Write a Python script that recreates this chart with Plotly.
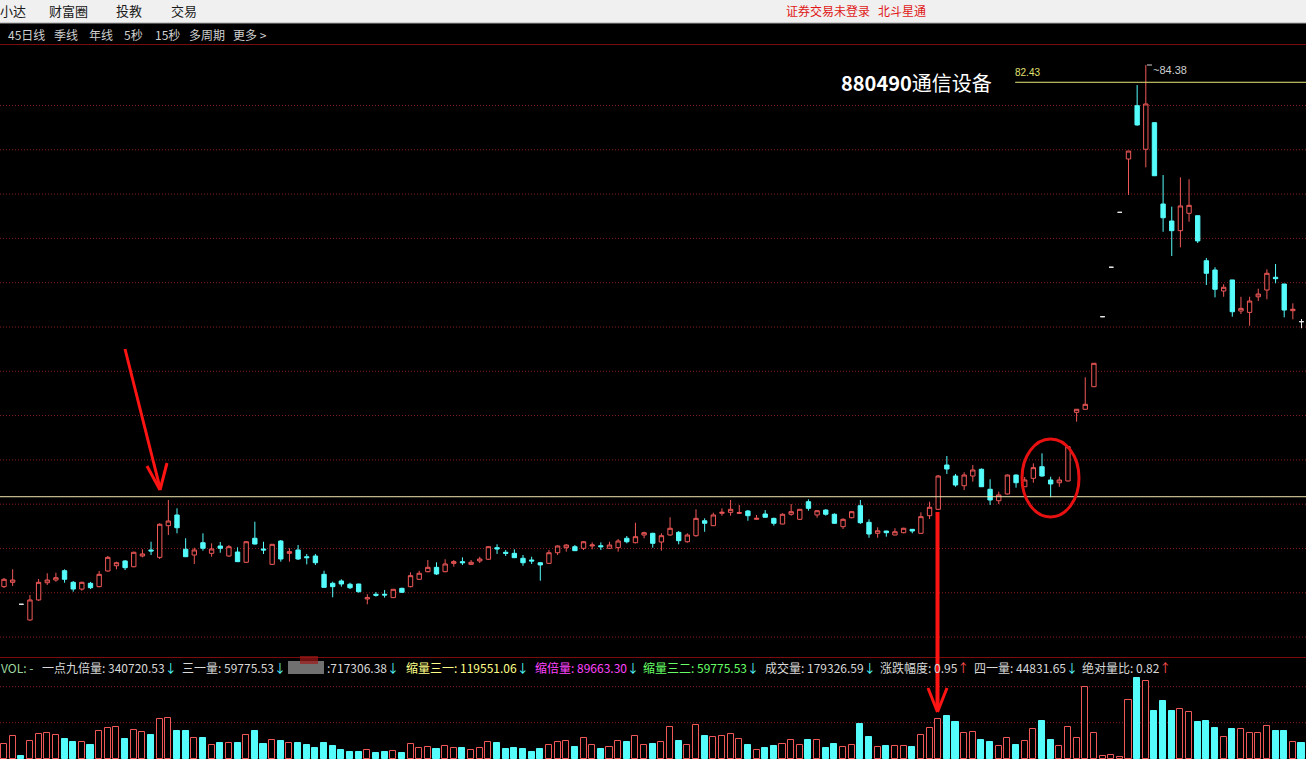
import plotly.graph_objects as go

W, H = 1306, 759

# ---------------- data ----------------
opens = [25.50, 25.99, 23.51, 21.74, 24.00, 25.94, 26.25, 27.30, 25.99, 25.23,
         25.88, 25.50, 27.27, 27.86, 28.40, 27.75, 28.96, 29.64, 28.81, 32.38,
         33.59, 29.72, 29.07, 30.46, 29.26, 30.09, 28.96, 29.41, 28.25, 30.96,
         29.75, 28.02, 30.65, 29.26, 29.64, 28.88, 28.96, 26.89, 25.88, 26.14,
         25.77, 25.80, 24.11, 24.64, 24.64, 24.26, 25.31, 25.50, 26.33, 27.19,
         27.68, 27.19, 28.13, 28.32, 28.02, 28.40, 28.59, 29.90, 29.38, 29.26,
         28.70, 28.51, 28.20, 28.13, 29.33, 29.90, 30.01, 29.83, 30.09, 30.12,
         29.83, 29.90, 30.96, 30.46, 31.33, 31.52, 30.54, 31.33, 31.63, 30.57,
         31.25, 32.94, 32.38, 33.78, 33.89, 33.78, 34.04, 33.10, 33.70, 33.21,
         32.57, 33.67, 33.10, 35.09, 33.59, 34.15, 33.67, 32.27, 33.28, 34.64,
         32.76, 31.52, 31.78, 31.33, 31.59, 31.97, 31.52, 33.51, 34.23, 39.23,
         37.99, 36.89, 37.99, 38.75, 36.49, 35.20, 35.96, 38.10, 36.78, 37.73,
         39.04, 37.54, 37.23, 37.43, 45.18, 45.52, 48.07, 55.97, 61.55, 67.75,
         73.77, 79.79, 74.87, 77.87, 68.69, 66.77, 65.68, 67.64, 67.37, 62.29,
         61.24, 58.87, 60.12, 56.61, 56.46, 58.22, 58.98, 60.42, 59.66, 56.65,
         55.41]
highs = [26.48, 27.46, 23.51, 24.56, 26.37, 27.01, 27.07, 27.46, 26.14, 26.06,
         26.03, 27.27, 28.96, 28.32, 28.51, 29.45, 29.72, 30.57, 32.65, 35.28,
         34.34, 30.96, 29.90, 31.52, 30.39, 30.54, 30.20, 29.94, 30.65, 32.83,
         30.57, 30.31, 30.77, 29.83, 30.20, 29.19, 29.19, 27.30, 26.06, 26.33,
         25.94, 25.83, 24.64, 24.90, 25.12, 25.23, 25.38, 27.12, 27.30, 28.51,
         28.25, 28.59, 28.51, 28.81, 28.51, 28.88, 30.05, 30.28, 29.64, 29.72,
         29.07, 28.88, 28.28, 29.64, 30.16, 30.28, 30.20, 30.65, 30.50, 30.50,
         30.57, 30.88, 31.22, 32.71, 31.70, 31.59, 31.52, 33.33, 31.78, 31.52,
         34.23, 33.21, 33.85, 34.34, 35.28, 34.72, 34.15, 33.59, 34.15, 33.28,
         33.78, 34.83, 34.26, 35.36, 34.15, 34.23, 33.78, 33.21, 34.04, 35.28,
         33.10, 32.20, 31.81, 32.09, 32.15, 32.01, 33.89, 35.09, 38.10, 40.25,
         38.22, 38.41, 39.23, 38.84, 37.62, 36.22, 38.16, 38.16, 37.88, 39.42,
         40.55, 37.91, 37.91, 41.35, 45.55, 49.13, 50.75, 55.97, 61.55, 67.75,
         74.67, 82.12, 84.38, 77.87, 71.96, 68.39, 71.70, 71.48, 67.37, 62.60,
         61.55, 59.63, 60.12, 58.22, 58.22, 59.13, 61.32, 61.92, 59.66, 57.48,
         55.71]
lows = [25.35, 25.58, 23.51, 21.66, 23.89, 25.69, 26.06, 25.94, 24.93, 25.04,
        25.23, 25.42, 27.19, 27.46, 27.38, 27.68, 28.81, 29.07, 28.62, 31.33,
        31.52, 28.85, 28.06, 29.56, 28.88, 29.33, 28.85, 28.28, 28.17, 30.25,
        29.19, 27.95, 28.32, 28.32, 28.51, 28.02, 27.95, 25.40, 24.30, 25.50,
        25.23, 24.82, 23.51, 24.37, 24.26, 24.24, 24.82, 25.42, 26.25, 27.12,
        26.82, 27.12, 27.75, 27.95, 27.95, 28.17, 28.51, 29.19, 28.96, 28.73,
        27.86, 28.06, 26.17, 28.06, 29.07, 29.45, 29.53, 29.64, 29.72, 29.64,
        29.75, 29.45, 30.39, 30.39, 30.96, 29.90, 29.56, 31.25, 30.28, 30.46,
        31.14, 31.70, 32.35, 33.51, 33.51, 33.70, 32.94, 33.06, 33.28, 32.38,
        32.54, 33.51, 33.02, 34.07, 33.28, 33.51, 32.57, 32.01, 33.21, 32.57,
        31.02, 31.02, 31.14, 31.30, 31.52, 31.52, 31.47, 33.14, 34.15, 38.22,
        36.78, 36.41, 37.35, 36.75, 34.72, 34.83, 35.90, 36.67, 36.75, 37.23,
        37.91, 35.59, 36.78, 37.37, 44.12, 45.50, 48.03, 55.97, 61.55, 67.75,
        69.71, 77.53, 72.83, 71.88, 65.56, 62.82, 63.80, 66.69, 64.29, 59.55,
        58.15, 58.22, 55.97, 56.27, 54.95, 57.74, 57.93, 59.74, 55.90, 55.68,
        54.67]
closes = [26.33, 26.25, 23.51, 24.00, 25.99, 26.25, 26.51, 26.33, 25.23, 25.99,
          25.38, 26.89, 28.81, 28.20, 27.64, 29.38, 29.19, 29.53, 32.54, 32.91,
          32.15, 28.88, 29.64, 29.83, 29.75, 29.83, 30.01, 28.32, 30.57, 30.31,
          29.64, 30.28, 28.62, 29.45, 28.62, 28.77, 28.20, 25.42, 25.50, 25.80,
          25.38, 24.93, 24.26, 24.53, 24.56, 25.20, 24.86, 26.74, 27.01, 27.68,
          26.93, 28.06, 28.32, 28.20, 28.25, 28.62, 30.01, 29.75, 29.26, 28.77,
          28.20, 28.40, 27.95, 29.33, 30.09, 30.20, 29.56, 30.57, 30.20, 30.01,
          30.20, 30.65, 30.57, 31.14, 31.59, 30.39, 31.25, 32.09, 30.69, 31.33,
          33.21, 32.65, 33.59, 33.89, 34.23, 33.85, 33.51, 33.21, 33.33, 32.65,
          33.67, 33.96, 34.23, 34.34, 34.07, 33.67, 32.65, 33.10, 33.96, 32.72,
          31.44, 31.81, 31.59, 31.70, 32.09, 31.78, 33.40, 34.46, 37.99, 38.78,
          36.97, 38.10, 38.67, 36.78, 35.28, 35.85, 38.10, 37.23, 37.54, 38.93,
          37.99, 37.09, 37.54, 41.30, 45.52, 46.08, 50.71, 55.97, 61.55, 67.75,
          74.67, 77.61, 79.98, 71.88, 67.14, 65.68, 68.47, 68.54, 64.52, 60.87,
          59.06, 59.29, 56.53, 56.91, 57.74, 58.53, 60.87, 60.26, 56.72, 56.81,
          55.41]
# volume, in units of 10,000
volumes = [17.6, 27.2, 3.6, 21.2, 29.6, 30.8, 28.4, 24.0, 20.4, 20.0,
           16.8, 33.2, 36.8, 38.0, 24.0, 34.4, 32.0, 28.8, 48.0, 48.8,
           33.6, 33.6, 24.8, 25.2, 16.4, 19.2, 19.2, 19.2, 28.4, 33.6,
           18.0, 22.4, 21.6, 18.8, 19.2, 16.8, 13.6, 19.2, 15.6, 10.8,
           8.4, 8.4, 10.4, 6.8, 8.0, 9.2, 6.8, 17.6, 12.8, 14.4,
           12.0, 15.2, 12.8, 13.2, 10.4, 13.2, 20.0, 18.8, 12.0, 13.2,
           12.0, 8.4, 12.0, 16.8, 20.0, 21.2, 14.4, 24.8, 16.4, 12.0,
           14.4, 21.2, 20.4, 27.2, 16.4, 18.0, 20.0, 38.0, 21.6, 16.4,
           40.4, 27.6, 26.0, 27.2, 30.4, 23.6, 16.8, 11.2, 13.2, 15.6,
           17.6, 22.4, 16.4, 22.8, 22.4, 13.2, 18.0, 14.0, 16.4, 42.0,
           26.4, 14.0, 15.6, 15.6, 15.6, 14.4, 28.4, 36.8, 47.6, 51.6,
           44.4, 30.8, 32.0, 22.8, 20.4, 15.2, 24.8, 16.8, 21.2, 35.6,
           45.6, 22.8, 15.2, 38.0, 24.8, 86.0, 30.8, 3.6, 4.4, 2.4,
           70.8, 96.8, 93.6, 57.6, 69.6, 57.6, 60.0, 56.0, 44.4, 45.6,
           37.2, 26.4, 36.0, 35.6, 30.8, 30.8, 39.2, 33.6, 33.6, 20.0,
           18.8]

title_text = "880490通信设备"
high_mark = 84.38
level_mark = 82.43
support_level = 35.65

menu_items = ["小达", "财富圈", "投教", "交易"]
status_items = ["证券交易未登录", "北斗星通"]
period_items = ["45日线", "季线", "年线", "5秒", "15秒", "多周期", "更多 >"]

# indicator row: (label, value, arrow-up?)
ind_labels = ["一点九倍量", "三一量", "", "缩量三一", "缩倍量", "缩量三二",
              "成交量", "涨跌幅度", "四一量", "绝对量比"]
ind_values = ["340720.53", "59775.53", "717306.38", "119551.06", "89663.30",
              "59775.53", "179326.59", "0.95", "44831.65", "0.82"]
ind_up = [False, False, False, False, False, False, False, True, False, True]

# ---------------- styling helpers ----------------
RED = "#f05858"
CYAN = "#55fcfc"
GRID = "#8a1c1c"
FONT = "Noto Sans CJK SC"

n = len(closes)
xs = list(range(n))


def PX(x):
    return x / W


def PY(y):
    return 1 - y / H


# pixel layout of the panes
main_top, main_bot = 44, 657
vol_top = 675
y_top_price, y_bot_price = 86.75, 17.56

fig = go.Figure()

# candle groups
up_idx = [i for i in xs if closes[i] > opens[i]]
dn_idx = [i for i in xs if closes[i] < opens[i]]
fl_idx = [i for i in xs if closes[i] == opens[i]]


def cs(idx, line_col, fill_col):
    return go.Candlestick(
        x=[xs[i] for i in idx],
        open=[opens[i] for i in idx], high=[highs[i] for i in idx],
        low=[lows[i] for i in idx], close=[closes[i] for i in idx],
        increasing=dict(line=dict(color=line_col, width=1), fillcolor=fill_col),
        decreasing=dict(line=dict(color=line_col, width=1), fillcolor=fill_col),
        whiskerwidth=0, showlegend=False, hoverinfo="skip",
        xaxis="x", yaxis="y")


fig.add_trace(cs(up_idx, RED, "#000000"))
fig.add_trace(cs(dn_idx, CYAN, CYAN))
fig.add_trace(cs(fl_idx, "#e6e6e6", "#e6e6e6"))

# volume colours follow the candle (flat -> compare with previous close)
vol_up = []
for i in xs:
    if closes[i] != opens[i]:
        vol_up.append(closes[i] > opens[i])
    else:
        vol_up.append(i > 0 and closes[i] >= closes[i - 1])

fig.add_trace(go.Bar(
    x=xs, y=volumes, width=0.7,
    marker=dict(color=["#000000" if u else CYAN for u in vol_up],
                line=dict(color=[RED if u else CYAN for u in vol_up], width=1)),
    showlegend=False, hoverinfo="skip", xaxis="x2", yaxis="y2"))

shapes = []
annotations = []

# top menu bar
shapes.append(dict(type="rect", xref="paper", yref="paper", x0=0, x1=1,
                   y0=PY(23), y1=1, fillcolor="#f0f0f0", line=dict(width=0),
                   layer="above"))
shapes.append(dict(type="line", xref="paper", yref="paper", x0=0, x1=1,
                   y0=PY(23), y1=PY(23), line=dict(color="#a8a8a8", width=1)))
# dark red pane borders
for yy in (44.5, 657.5):
    shapes.append(dict(type="line", xref="paper", yref="paper", x0=0, x1=1,
                       y0=PY(yy), y1=PY(yy), line=dict(color="#7a0c0c", width=1)))

DOT = "1px,2px"
# dotted grid in the price pane (every 5 units)
g = 79.81
while g > y_bot_price:
    shapes.append(dict(type="line", xref="paper", yref="y", x0=0, x1=1,
                       y0=g, y1=g, line=dict(color=GRID, width=1, dash=DOT),
                       layer="below"))
    g -= 5
# dotted grid in the volume pane
for v in (43.6, 86.8):
    shapes.append(dict(type="line", xref="paper", yref="y2", x0=0, x1=1,
                       y0=v, y1=v, line=dict(color=GRID, width=1, dash=DOT),
                       layer="below"))

# user-drawn horizontal line
shapes.append(dict(type="line", xref="paper", yref="y", x0=0, x1=1,
                   y0=support_level, y1=support_level,
                   line=dict(color="#f2e8b0", width=1)))
# 82.43 level line
shapes.append(dict(type="line", xref="x", yref="y", x0=116.9, x1=151,
                   y0=level_mark, y1=level_mark,
                   line=dict(color="#e8e878", width=1)))

# red annotation arrows / ellipse
ARW = "#ff1414"
shapes += [
    dict(type="line", xref="paper", yref="paper", x0=PX(125), y0=PY(349),
         x1=PX(160), y1=PY(488), line=dict(color=ARW, width=3)),
    dict(type="line", xref="paper", yref="paper", x0=PX(147), y0=PY(466),
         x1=PX(160), y1=PY(490), line=dict(color=ARW, width=3)),
    dict(type="line", xref="paper", yref="paper", x0=PX(167), y0=PY(463),
         x1=PX(160), y1=PY(490), line=dict(color=ARW, width=3)),
    dict(type="line", xref="paper", yref="paper", x0=PX(937.5), y0=PY(512),
         x1=PX(937.5), y1=PY(710), line=dict(color=ARW, width=4)),
    dict(type="line", xref="paper", yref="paper", x0=PX(928), y0=PY(688),
         x1=PX(937.5), y1=PY(712), line=dict(color=ARW, width=3)),
    dict(type="line", xref="paper", yref="paper", x0=PX(947), y0=PY(688),
         x1=PX(937.5), y1=PY(712), line=dict(color=ARW, width=3)),
    dict(type="circle", xref="paper", yref="paper", x0=PX(1022), x1=PX(1079),
         y0=PY(517), y1=PY(439), line=dict(color="#e81010", width=3)),
]

# high marker tick
shapes.append(dict(type="line", xref="paper", yref="paper", x0=PX(1147),
                   y0=PY(65), x1=PX(1152), y1=PY(65),
                   line=dict(color="#d0d0d0", width=1)))


def txt(x, y, s, color, size=12, anchor="left", family=FONT):
    annotations.append(dict(x=PX(x), y=PY(y), xref="paper", yref="paper",
                            text=s, showarrow=False, xanchor=anchor,
                            yanchor="middle",
                            font=dict(color=color, size=size, family=family)))


# menu texts
for s, x in zip(menu_items, [-2, 47, 114, 169]):
    txt(x, 11, s, "#1a1a1a", 13)
for s, x in zip(status_items, [784, 876]):
    txt(x, 11, s, "#e01818", 12)
for s, x in zip(period_items, [6, 52, 87, 122, 153, 187, 231]):
    txt(x, 34, s, "#cfcfcf", 12)

# title & price marks
txt(839, 82, "<b>880490</b>通信设备", "#ffffff", 20)
txt(1013, 73, "82.43", "#e0e070", 10, family="Arial")
txt(1151, 70, "~84.38", "#cfcfcf", 11, family="Arial")

# indicator row
ind_x = [40, 180, 325, 404, 533, 641, 763, 878, 972, 1080]
ind_col = ["#d8d8d8", "#d8d8d8", "#d8d8d8", "#ffff88", "#ff44ff", "#66ff66",
           "#d8d8d8", "#d8d8d8", "#d8d8d8", "#d8d8d8"]
txt(-1, 667, "VOL: -", "#9fd89f", 12)
for lab, val, up, x, col in zip(ind_labels, ind_values, ind_up, ind_x, ind_col):
    arrow = ('<span style="color:#ff5050">↑</span>' if up
             else '<span style="color:#55ffff">↓</span>')
    body = (lab + ": " + val) if lab else (":" + val)
    txt(x, 667, body + arrow, col, 12)

# obscured (mosaic) fragment
shapes.append(dict(type="rect", xref="paper", yref="paper", x0=PX(288),
                   x1=PX(324), y0=PY(674), y1=PY(661),
                   fillcolor="#8c8c8c", line=dict(width=0), opacity=0.8))
shapes.append(dict(type="rect", xref="paper", yref="paper", x0=PX(300),
                   x1=PX(318), y0=PY(664), y1=PY(656),
                   fillcolor="#a01818", line=dict(width=0), opacity=0.7))

fig.update_layout(
    width=W, height=H, margin=dict(l=0, r=0, t=0, b=0),
    paper_bgcolor="#000000", plot_bgcolor="#000000",
    boxgap=0.28, bargap=0,
    xaxis=dict(domain=[0, 1], range=[-0.462, 150.52], visible=False,
               rangeslider=dict(visible=False), fixedrange=True),
    yaxis=dict(domain=[PY(main_bot), PY(main_top)],
               range=[y_bot_price, y_top_price], visible=False, fixedrange=True),
    xaxis2=dict(domain=[0, 1], range=[-0.462, 150.52], visible=False,
                anchor="y2", matches="x", rangeslider=dict(visible=False)),
    yaxis2=dict(domain=[0, PY(vol_top)], range=[0, 100.8], visible=False,
                anchor="x2", fixedrange=True),
    shapes=shapes, annotations=annotations,
    showlegend=False, hovermode=False,
)

fig.write_html("out.html", config={"displayModeBar": False},
               post_script="document.body.style.margin='0';"
                           "document.body.style.overflow='hidden';")
